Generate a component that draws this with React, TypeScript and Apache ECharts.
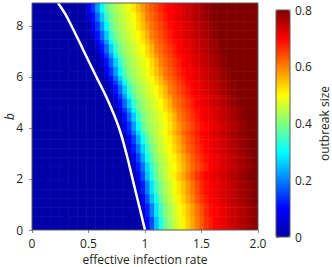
import React, { useEffect, useRef } from "react";
import * as echarts from "echarts";

// left edges of the heat-map columns (effective infection rate)
const rateEdges = [
  0, 0.04, 0.08, 0.12, 0.16, 0.2, 0.24, 0.28, 0.32, 0.36,
  0.4, 0.44, 0.48, 0.52, 0.56, 0.6, 0.64, 0.68, 0.72, 0.76,
  0.8, 0.84, 0.88, 0.92, 0.96, 1, 1.04, 1.08, 1.12, 1.16,
  1.2, 1.24, 1.28, 1.32, 1.36, 1.4, 1.44, 1.48, 1.52, 1.56,
  1.6, 1.64, 1.68, 1.72, 1.76, 1.8, 1.84, 1.88, 1.92, 1.96,
];
const RATE_MAX = 2;

// lower edges of the heat-map rows (b)
const bEdges = [
  0, 0.178, 0.356, 0.534, 0.712, 0.89, 1.068, 1.246, 1.424, 1.602,
  1.78, 1.958, 2.136, 2.314, 2.492, 2.67, 2.848, 3.026, 3.204, 3.382,
  3.56, 3.738, 3.916, 4.094, 4.272, 4.45, 4.628, 4.806, 4.984, 5.162,
  5.34, 5.518, 5.696, 5.874, 6.052, 6.23, 6.408, 6.586, 6.764, 6.942,
  7.12, 7.298, 7.476, 7.654, 7.832, 8.01, 8.188, 8.366, 8.544, 8.722,
];
const B_MAX = 8.9;

// outbreak size (in %) per row (b, bottom to top) and column (rate)
const outbreakPct = [
  [0,0,0,0,0, 0,0,0,0,0, 0,0,0,0,0, 0,0,0,0,0, 0,0,0,0,0, 8,16,25,32,38, 42,45,48,51,54, 57,60,63,66,68, 70,71,72,73,74, 75,76,77,78,79],
  [0,0,0,0,0, 0,0,0,0,0, 0,0,0,0,0, 0,0,0,0,0, 0,0,0,0,0, 8,16,25,32,38, 42,45,48,51,54, 57,60,63,66,68, 70,71,72,73,74, 75,76,77,78,79],
  [0,0,0,0,0, 0,0,0,0,0, 0,0,0,0,0, 0,0,0,0,0, 0,0,0,0,0, 8,16,25,32,38, 42,45,48,51,54, 57,60,63,66,68, 70,71,72,73,74, 75,76,77,78,79],
  [0,0,0,0,0, 0,0,0,0,0, 0,0,0,0,0, 0,0,0,0,0, 0,0,0,0,4, 12,20,28,35,40, 43,46,49,52,55, 58,61,64,67,69, 70,71,72,73,74, 75,76,77,78,79],
  [0,0,0,0,0, 0,0,0,0,0, 0,0,0,0,0, 0,0,0,0,0, 0,0,0,0,4, 12,20,28,35,40, 43,46,49,52,55, 58,61,64,67,69, 70,71,72,73,74, 75,76,77,78,79],
  [0,0,0,0,0, 0,0,0,0,0, 0,0,0,0,0, 0,0,0,0,0, 0,0,0,0,4, 12,20,28,35,40, 43,46,49,52,55, 58,61,64,67,69, 70,71,72,73,74, 75,76,77,78,79],
  [0,0,0,0,0, 0,0,0,0,0, 0,0,0,0,0, 0,0,0,0,0, 0,0,0,0,8, 16,25,32,38,42, 45,48,51,54,57, 60,63,66,68,70, 71,72,73,74,75, 76,77,78,79,80],
  [0,0,0,0,0, 0,0,0,0,0, 0,0,0,0,0, 0,0,0,0,0, 0,0,0,0,8, 16,25,32,38,42, 45,48,51,54,57, 60,63,66,68,70, 71,72,73,74,75, 76,77,78,79,80],
  [0,0,0,0,0, 0,0,0,0,0, 0,0,0,0,0, 0,0,0,0,0, 0,0,0,4,12, 20,28,35,40,43, 46,49,52,55,58, 61,64,67,69,70, 71,72,73,74,75, 76,77,78,79,80],
  [0,0,0,0,0, 0,0,0,0,0, 0,0,0,0,0, 0,0,0,0,0, 0,0,0,4,12, 20,28,35,40,43, 46,49,52,55,58, 61,64,67,69,70, 71,72,73,74,75, 76,77,78,79,80],
  [0,0,0,0,0, 0,0,0,0,0, 0,0,0,0,0, 0,0,0,0,0, 0,0,0,4,12, 20,28,35,40,43, 46,49,52,55,58, 61,64,67,69,70, 71,72,73,74,75, 76,77,78,79,80],
  [0,0,0,0,0, 0,0,0,0,0, 0,0,0,0,0, 0,0,0,0,0, 0,0,0,8,16, 25,32,38,42,45, 48,51,54,57,60, 63,66,68,70,71, 72,73,74,75,76, 77,78,79,80,80],
  [0,0,0,0,0, 0,0,0,0,0, 0,0,0,0,0, 0,0,0,0,0, 0,0,0,8,16, 25,32,38,42,45, 48,51,54,57,60, 63,66,68,70,71, 72,73,74,75,76, 77,78,79,80,80],
  [0,0,0,0,0, 0,0,0,0,0, 0,0,0,0,0, 0,0,0,0,0, 0,0,4,12,19, 27,34,39,43,45, 48,50,53,56,59, 62,64,66,68,70, 71,72,73,74,75, 76,77,78,79,80],
  [0,0,0,0,0, 0,0,0,0,0, 0,0,0,0,0, 0,0,0,0,0, 0,0,4,12,19, 27,34,39,43,45, 48,50,53,56,59, 62,64,66,68,70, 71,72,73,74,75, 76,77,78,79,80],
  [0,0,0,0,0, 0,0,0,0,0, 0,0,0,0,0, 0,0,0,0,0, 0,0,8,15,23, 31,37,41,44,46, 49,51,54,57,60, 63,65,67,69,70, 71,72,73,74,75, 76,77,78,79,80],
  [0,0,0,0,0, 0,0,0,0,0, 0,0,0,0,0, 0,0,0,0,0, 0,0,8,15,23, 31,37,41,44,46, 49,51,54,57,60, 63,65,67,69,70, 71,72,73,74,75, 76,77,78,79,80],
  [0,0,0,0,0, 0,0,0,0,0, 0,0,0,0,0, 0,0,0,0,0, 0,4,12,19,27, 34,39,43,45,48, 50,53,56,59,62, 64,66,68,70,71, 72,73,74,75,76, 77,78,79,80,80],
  [0,0,0,0,0, 0,0,0,0,0, 0,0,0,0,0, 0,0,0,0,0, 0,4,12,19,27, 34,39,43,45,48, 50,53,56,59,62, 64,66,68,70,71, 72,73,74,75,76, 77,78,79,80,80],
  [0,0,0,0,0, 0,0,0,0,0, 0,0,0,0,0, 0,0,0,0,0, 0,8,15,23,31, 37,41,44,46,49, 51,54,57,60,63, 65,67,69,70,71, 72,73,74,75,76, 77,78,79,80,80],
  [0,0,0,0,0, 0,0,0,0,0, 0,0,0,0,0, 0,0,0,0,0, 0,8,15,23,31, 37,41,44,46,49, 51,54,57,60,63, 65,67,69,70,71, 72,73,74,75,76, 77,78,79,80,80],
  [0,0,0,0,0, 0,0,0,0,0, 0,0,0,0,0, 0,0,0,0,0, 4,12,19,27,34, 39,43,45,48,50, 53,56,59,62,64, 66,68,70,71,72, 73,74,75,76,77, 78,79,80,80,80],
  [0,0,0,0,0, 0,0,0,0,0, 0,0,0,0,0, 0,0,0,0,0, 8,14,22,30,37, 41,43,45,47,49, 52,55,58,61,63, 65,67,69,70,71, 72,73,74,75,76, 77,78,79,80,80],
  [0,0,0,0,0, 0,0,0,0,0, 0,0,0,0,0, 0,0,0,0,0, 8,14,22,30,37, 41,43,45,47,49, 52,55,58,61,63, 65,67,69,70,71, 72,73,74,75,76, 77,78,79,80,80],
  [0,0,0,0,0, 0,0,0,0,0, 0,0,0,0,0, 0,0,0,0,4, 11,18,26,34,39, 42,44,46,48,50, 53,56,60,62,64, 66,68,70,71,72, 73,74,75,76,77, 78,79,80,80,80],
  [0,0,0,0,0, 0,0,0,0,0, 0,0,0,0,0, 0,0,0,0,4, 11,18,26,34,39, 42,44,46,48,50, 53,56,60,62,64, 66,68,70,71,72, 73,74,75,76,77, 78,79,80,80,80],
  [0,0,0,0,0, 0,0,0,0,0, 0,0,0,0,0, 0,0,0,0,8, 14,22,30,37,41, 43,45,47,49,52, 55,58,61,63,65, 67,69,70,71,72, 73,74,75,76,77, 78,79,80,80,80],
  [0,0,0,0,0, 0,0,0,0,0, 0,0,0,0,0, 0,0,0,4,11, 18,26,34,39,42, 44,46,48,50,53, 56,60,62,64,66, 68,70,71,72,73, 74,75,76,77,78, 79,80,80,80,80],
  [0,0,0,0,0, 0,0,0,0,0, 0,0,0,0,0, 0,0,0,4,11, 18,26,34,39,42, 44,46,48,50,53, 56,60,62,64,66, 68,70,71,72,73, 74,75,76,77,78, 79,80,80,80,80],
  [0,0,0,0,0, 0,0,0,0,0, 0,0,0,0,0, 0,0,0,8,14, 22,30,37,41,43, 45,47,49,52,55, 58,61,63,65,67, 69,70,71,72,73, 74,75,76,77,78, 79,80,80,80,80],
  [0,0,0,0,0, 0,0,0,0,0, 0,0,0,0,0, 0,0,4,11,18, 26,34,39,42,44, 46,48,50,53,56, 60,62,64,66,68, 70,71,72,73,74, 75,76,77,78,79, 80,80,80,80,80],
  [0,0,0,0,0, 0,0,0,0,0, 0,0,0,0,0, 0,0,4,11,18, 26,34,39,42,44, 46,48,50,53,56, 60,62,64,66,68, 70,71,72,73,74, 75,76,77,78,79, 80,80,80,80,80],
  [0,0,0,0,0, 0,0,0,0,0, 0,0,0,0,0, 0,0,8,14,22, 30,37,41,43,45, 47,49,52,55,58, 61,63,65,67,69, 70,71,72,73,74, 75,76,77,78,79, 80,80,80,80,80],
  [0,0,0,0,0, 0,0,0,0,0, 0,0,0,0,0, 0,4,11,18,26, 34,39,42,44,46, 48,50,53,56,60, 62,64,66,68,70, 71,72,73,74,75, 76,77,78,79,80, 80,80,80,80,80],
  [0,0,0,0,0, 0,0,0,0,0, 0,0,0,0,0, 0,8,14,22,30, 37,41,43,45,47, 49,52,55,58,61, 63,65,67,69,70, 71,72,73,74,75, 76,77,78,79,80, 80,80,80,80,80],
  [0,0,0,0,0, 0,0,0,0,0, 0,0,0,0,0, 0,8,14,22,30, 37,41,43,45,47, 49,52,55,58,61, 63,65,67,69,70, 71,72,73,74,75, 76,77,78,79,80, 80,80,80,80,80],
  [0,0,0,0,0, 0,0,0,0,0, 0,0,0,0,0, 4,11,18,26,34, 39,42,44,46,48, 50,53,56,60,62, 64,66,68,70,71, 72,73,74,75,76, 77,78,79,80,80, 80,80,80,80,80],
  [0,0,0,0,0, 0,0,0,0,0, 0,0,0,0,0, 4,11,18,26,34, 39,42,44,46,48, 50,53,56,60,62, 64,66,68,70,71, 72,73,74,75,76, 77,78,79,80,80, 80,80,80,80,80],
  [0,0,0,0,0, 0,0,0,0,0, 0,0,0,0,0, 8,14,22,30,37, 41,43,45,47,49, 52,55,58,61,63, 65,67,69,70,71, 72,73,74,75,76, 77,78,79,80,80, 80,80,80,80,80],
  [0,0,0,0,0, 0,0,0,0,0, 0,0,0,0,4, 11,18,26,34,39, 42,44,46,48,50, 53,56,60,62,64, 66,68,70,71,72, 73,74,75,76,77, 78,79,80,80,80, 80,80,80,80,80],
  [0,0,0,0,0, 0,0,0,0,0, 0,0,0,0,4, 11,18,26,34,39, 42,44,46,48,50, 53,56,60,62,64, 66,68,70,71,72, 73,74,75,76,77, 78,79,80,80,80, 80,80,80,80,80],
  [0,0,0,0,0, 0,0,0,0,0, 0,0,0,0,8, 14,22,30,37,41, 43,45,47,49,52, 55,58,61,63,65, 67,69,70,71,72, 73,74,75,76,77, 78,79,80,80,80, 80,80,80,80,80],
  [0,0,0,0,0, 0,0,0,0,0, 0,0,0,4,11, 18,26,34,39,42, 44,46,48,50,53, 56,60,62,64,66, 68,70,71,72,73, 74,75,76,77,78, 79,80,80,80,80, 80,80,80,80,80],
  [0,0,0,0,0, 0,0,0,0,0, 0,0,0,4,11, 18,26,34,39,42, 44,46,48,50,53, 56,60,62,64,66, 68,70,71,72,73, 74,75,76,77,78, 79,80,80,80,80, 80,80,80,80,80],
  [0,0,0,0,0, 0,0,0,0,0, 0,0,0,8,14, 22,30,37,41,43, 45,47,49,52,55, 58,61,63,65,67, 69,70,71,72,73, 74,75,76,77,78, 79,80,80,80,80, 80,80,80,80,80],
  [0,0,0,0,0, 0,0,0,0,0, 0,0,0,8,14, 22,30,37,41,43, 45,47,49,52,55, 58,61,63,65,67, 69,70,71,72,73, 74,75,76,77,78, 79,80,80,80,80, 80,80,80,80,80],
  [0,0,0,0,0, 0,0,0,0,0, 0,0,4,11,18, 26,34,39,42,44, 46,48,50,53,56, 60,62,64,66,68, 70,71,72,73,74, 75,76,77,78,79, 80,80,80,80,80, 80,80,80,80,80],
  [0,0,0,0,0, 0,0,0,0,0, 0,0,4,11,18, 26,34,39,42,44, 46,48,50,53,56, 60,62,64,66,68, 70,71,72,73,74, 75,76,77,78,79, 80,80,80,80,80, 80,80,80,80,80],
  [0,0,0,0,0, 0,0,0,0,0, 0,0,8,14,22, 30,37,41,43,45, 47,49,52,55,58, 61,63,65,67,69, 70,71,72,73,74, 75,76,77,78,79, 80,80,80,80,80, 80,80,80,80,80],
  [0,0,0,0,0, 0,0,0,0,0, 0,0,8,14,22, 30,37,41,43,45, 47,49,52,55,58, 61,63,65,67,69, 70,71,72,73,74, 75,76,77,78,79, 80,80,80,80,80, 80,80,80,80,80],
];

// white threshold curve
const curveB = [0, 1, 2, 3, 4, 5, 6, 7, 8, 8.5, 8.9];
const curveRate = [1.0, 0.945, 0.89, 0.835, 0.77, 0.68, 0.57, 0.46, 0.35, 0.29, 0.23];

// ticks
const xTickValues = [0, 0.5, 1, 1.5, 2];
const xTickLabels = ["0", "0.5", "1", "1.5", "2.0"];
const yTickValues = [0, 2, 4, 6, 8];
const cbTickValues = [0, 0.2, 0.4, 0.6, 0.8];
const cbTickLabels = ["0", "0.2", "0.4", "0.6", "0.8"];

const jet = ["#0000a8", "#0000ff", "#0080ff", "#00ffff", "#80ff80", "#ffff00", "#ff8000", "#ff0000", "#800000"];

const FONT = "Open Sans";
const TEXT = "#231f20";
const FRAME = "#5a5a5a";
const TICK = "#8a8a8a";

function labelFor(values: number[], labels: string[], v: number) {
  const i = values.findIndex((t) => Math.abs(t - v) < 1e-9);
  return i >= 0 ? labels[i] : "";
}

export default function App() {
  const ref = useRef<HTMLDivElement>(null);
  useEffect(() => {
    if (!ref.current) return;
    const chart = echarts.init(ref.current, null, { renderer: "svg" });

    const cells: number[][] = [];
    outbreakPct.forEach((row, r) => {
      row.forEach((pct, c) => {
        const x0 = rateEdges[c];
        const x1 = c + 1 < rateEdges.length ? rateEdges[c + 1] : RATE_MAX;
        const y0 = bEdges[r];
        const y1 = r + 1 < bEdges.length ? bEdges[r + 1] : B_MAX;
        cells.push([x0, y0, x1, y1, pct / 100]);
      });
    });

    const textStyle = { color: TEXT, fontSize: 12, fontFamily: FONT, lineHeight: 12 };

    chart.setOption({
      animation: false,
      grid: [
        { left: 32, top: 3, width: 226, height: 227, outerBoundsMode: "none", containLabel: false, show: true, borderColor: FRAME, borderWidth: 1, backgroundColor: "transparent", z: 10 },
        { left: 276, top: 10, width: 14, height: 227, outerBoundsMode: "none", containLabel: false, show: true, borderColor: FRAME, borderWidth: 1, backgroundColor: "transparent", z: 10 },
      ],
      xAxis: [
        {
          gridIndex: 0, type: "value", min: 0, max: RATE_MAX, interval: 0.5,
          axisLine: { show: false },
          axisTick: { show: true, length: 3, lineStyle: { color: TICK } },
          axisLabel: { ...textStyle, margin: 7, formatter: (v: number) => labelFor(xTickValues, xTickLabels, v) },
          splitLine: { show: false },
          name: "effective infection rate", nameLocation: "middle", nameGap: 23, nameMoveOverlap: false,
          nameTextStyle: textStyle,
        },
        { gridIndex: 1, type: "value", show: false, min: 0, max: 1 },
      ],
      yAxis: [
        {
          gridIndex: 0, type: "value", min: 0, max: B_MAX, interval: 2,
          axisLine: { show: false },
          axisTick: { show: true, length: 3, customValues: yTickValues, lineStyle: { color: TICK } },
          axisLabel: { ...textStyle, margin: 9, customValues: yTickValues, formatter: (v: number) => String(v) },
          splitLine: { show: false },
          name: "b", nameLocation: "middle", nameGap: 23, nameMoveOverlap: false,
          nameTextStyle: { ...textStyle, fontStyle: "italic", verticalAlign: "middle" },
        },
        {
          gridIndex: 1, type: "value", position: "right", min: 0, max: 0.8, interval: 0.2,
          axisLine: { show: false },
          axisTick: { show: true, length: 3, lineStyle: { color: TICK } },
          axisLabel: { ...textStyle, margin: 5, formatter: (v: number) => labelFor(cbTickValues, cbTickLabels, v) },
          splitLine: { show: false },
          name: "outbreak size", nameLocation: "middle", nameGap: 34, nameMoveOverlap: false,
          nameTextStyle: { ...textStyle, verticalAlign: "middle" },
        },
      ],
      visualMap: {
        type: "continuous",
        seriesIndex: 0,
        dimension: 4,
        min: 0,
        max: 0.8,
        orient: "vertical",
        left: 276,
        top: 10,
        padding: 0,
        itemWidth: 14,
        itemHeight: 227,
        calculable: false,
        hoverLink: false,
        inRange: { color: jet },
        z: 4,
      },
      series: [
        {
          type: "custom",
          xAxisIndex: 0,
          yAxisIndex: 0,
          data: cells,
          dimensions: ["x0", "y0", "x1", "y1", "size"],
          encode: { x: [0, 2], y: [1, 3] },
          clip: true,
          silent: true,
          renderItem: (_params: any, api: any) => {
            const p0 = api.coord([api.value(0), api.value(3)]);
            const p1 = api.coord([api.value(2), api.value(1)]);
            return {
              type: "rect",
              shape: { x: p0[0], y: p0[1], width: p1[0] - p0[0] + 0.5, height: p1[1] - p0[1] + 0.5 },
              style: { fill: api.visual("color"), stroke: null },
            };
          },
        },
        {
          type: "line",
          xAxisIndex: 0,
          yAxisIndex: 0,
          data: curveB.map((b, i) => [curveRate[i], b]),
          showSymbol: false,
          smooth: 0.4,
          clip: true,
          silent: true,
          z: 5,
          lineStyle: { color: "#ffffff", width: 2.5 },
        },
      ],
    });
    return () => chart.dispose();
  }, []);
  return <div ref={ref} style={{ position: "absolute", left: 0, top: 0, width: 332, height: 267 }} />;
}
